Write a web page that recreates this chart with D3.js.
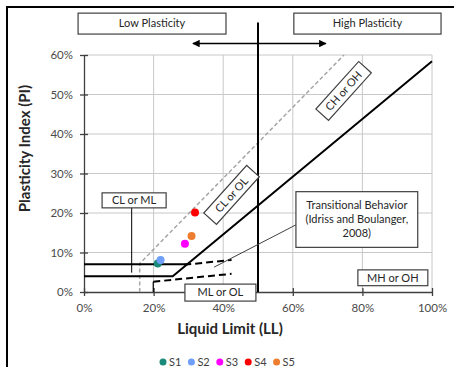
<!DOCTYPE html>
<html>
<head>
<meta charset="utf-8">
<script src="https://cdn.jsdelivr.net/npm/d3@7"></script>
<style>
  html, body { margin: 0; padding: 0; background: #fff; }
  svg { display: block; font-family: Lato, "Liberation Sans", sans-serif; }
</style>
</head>
<body>
<div id="chart"></div>
<script>
// samples: liquid limit (%) and plasticity index (%)
const sampleNames = ['S1', 'S2', 'S3', 'S4', 'S5'];
const sampleLL = [21.2, 22.0, 29.0, 31.9, 30.9];
const samplePI = [7.2, 8.1, 12.2, 20.1, 14.2];
const sampleColors = ['#1a8a7a', '#6f9ffa', '#ff00ff', '#ff0000', '#ed7d31'];

const xTicks = [0, 20, 40, 60, 80, 100];
const yTicks = [0, 10, 20, 30, 40, 50, 60];

// chart lines, in [LL, PI]
const aLine = [[0, 4], [25.5, 4], [100, 58.4]];
const clMlLine = [[0, 7], [29.6, 7]];
const uLine = [[16, 0], [16, 7.2], [74.7, 60]];
const transUpper = [[28.8, 6.9], [42.4, 8.1]];
const transLower = [[19.9, 2.6], [42.4, 4.6]];
const transStem = [[19.9, 0], [19.9, 2.6]];
const llDivide = [[50, 0], [50, 68.2]];
const arrowLine = [[31.3, 62.9], [69.5, 62.9]];

const width = 454, height = 367;
const margin = { top: 55, right: 22, bottom: 75, left: 84 };

const x = d3.scaleLinear().domain([0, 100]).range([margin.left, width - margin.right]);
const y = d3.scaleLinear().domain([0, 60]).range([height - margin.bottom, margin.top]);

const svg = d3.select('#chart').append('svg')
    .attr('width', width)
    .attr('height', height);

svg.append('rect').attr('width', width).attr('height', height).attr('fill', '#fff');

// outer frame (only top/left visible)
svg.append('rect')
    .attr('x', 7).attr('y', 7)
    .attr('width', width + 20).attr('height', height + 20)
    .attr('fill', 'none').attr('stroke', '#000').attr('stroke-width', 2);

// gridlines
svg.append('g').selectAll('line.vg')
    .data(xTicks.slice(1))
    .join('line')
    .attr('x1', d => x(d)).attr('x2', d => x(d))
    .attr('y1', y(0)).attr('y2', y(60))
    .attr('stroke', '#c8c8c8').attr('stroke-width', 1);

svg.append('g').selectAll('line.hg')
    .data(yTicks.slice(1))
    .join('line')
    .attr('x1', x(0)).attr('x2', x(100))
    .attr('y1', d => y(d)).attr('y2', d => y(d))
    .attr('stroke', '#c8c8c8').attr('stroke-width', 1);

// axes
const yAxis = svg.append('g')
    .attr('transform', `translate(${x(0)},0)`)
    .call(d3.axisLeft(y).tickValues(yTicks).tickFormat(d => d + '%').tickSizeInner(4).tickSizeOuter(0).tickPadding(7));
yAxis.selectAll('.tick line').attr('x1', 4);

const xAxis = svg.append('g')
    .attr('transform', `translate(0,${y(0)})`)
    .call(d3.axisBottom(x).tickValues(xTicks).tickFormat(d => d + '%').tickSizeInner(4).tickSizeOuter(0).tickPadding(8));
xAxis.selectAll('.tick line').attr('y1', -4);

svg.selectAll('.domain, .tick line').attr('stroke', '#404040').attr('stroke-width', 1.3);
svg.selectAll('.tick text')
    .attr('font-family', 'Lato, "Liberation Sans", sans-serif')
    .attr('font-size', 11.5)
    .attr('fill', '#4a4a4a');

// axis titles
svg.append('text')
    .attr('x', (x(0) + x(100)) / 2 - 28)
    .attr('y', 334)
    .attr('text-anchor', 'middle')
    .attr('font-weight', 'bold')
    .attr('font-size', 15)
    .attr('fill', '#262626')
    .text('Liquid Limit (LL)');

svg.append('text')
    .attr('transform', `translate(30,${(y(0) + y(60)) / 2 - 25}) rotate(-90)`)
    .attr('text-anchor', 'middle')
    .attr('font-weight', 'bold')
    .attr('font-size', 15)
    .attr('fill', '#262626')
    .text('Plasticity Index (PI)');

const line = d3.line().x(d => x(d[0])).y(d => y(d[1]));

// U-line
svg.append('path').attr('d', line(uLine))
    .attr('fill', 'none').attr('stroke', '#a6a6a6').attr('stroke-width', 1.5)
    .attr('stroke-dasharray', '4,2.5');

// transitional behavior
[transUpper, transLower].forEach(seg => {
    svg.append('path').attr('d', line(seg))
        .attr('fill', 'none').attr('stroke', '#000').attr('stroke-width', 2)
        .attr('stroke-dasharray', '7,4');
});
svg.append('path').attr('d', line(transStem))
    .attr('fill', 'none').attr('stroke', '#000').attr('stroke-width', 1.2);

// A-line and CL-ML limit
svg.append('path').attr('d', line(aLine))
    .attr('fill', 'none').attr('stroke', '#000').attr('stroke-width', 2);
svg.append('path').attr('d', line(clMlLine))
    .attr('fill', 'none').attr('stroke', '#000').attr('stroke-width', 2);

// LL = 50 divide
svg.append('path').attr('d', line(llDivide))
    .attr('fill', 'none').attr('stroke', '#000').attr('stroke-width', 2);

// arrow
const defs = svg.append('defs');
defs.append('marker')
    .attr('id', 'arr')
    .attr('viewBox', '0 0 10 10')
    .attr('refX', 9).attr('refY', 5)
    .attr('markerWidth', 5).attr('markerHeight', 5)
    .attr('orient', 'auto-start-reverse')
    .append('path').attr('d', 'M0,0L10,5L0,10z').attr('fill', '#000');
svg.append('path').attr('d', line(arrowLine))
    .attr('fill', 'none').attr('stroke', '#000').attr('stroke-width', 1.5)
    .attr('marker-start', 'url(#arr)').attr('marker-end', 'url(#arr)');

// leader lines
svg.append('path').attr('d', line([[13.7, 21.3], [13.7, 4.9]]))
    .attr('fill', 'none').attr('stroke', '#000').attr('stroke-width', 1);
svg.append('path').attr('d', line([[37.4, 6.3], [60.9, 17]]))
    .attr('fill', 'none').attr('stroke', '#404040').attr('stroke-width', 1);

// label boxes: [text lines, LL left, LL right, PI top, PI bottom]
const boxLabels = [
    [['Low Plasticity'], -1.7, 40.8, 70.6, 65.3],
    [['High Plasticity'], 60.3, 102.6, 70.6, 65.3],
    [['CL or ML'], 5.2, 23.6, 25.1, 21.3],
    [['ML or OL'], 29.0, 49.4, 2.0, -2.3],
    [['MH or OH'], 78.7, 98.8, 5.6, 1.6],
    [['Transitional Behavior', '(Idriss and Boulanger,', '2008)'], 60.9, 95.9, 25.4, 11.3]
];
boxLabels.forEach(([lines, l, r, t, b]) => {
    const y0 = y(t), y1 = y(b);
    const g = svg.append('g');
    g.append('rect')
        .attr('x', x(l)).attr('y', y0)
        .attr('width', x(r) - x(l)).attr('height', y1 - y0)
        .attr('fill', '#fff').attr('stroke', '#404040').attr('stroke-width', 1.2);
    const cy = (y0 + y1) / 2;
    lines.forEach((s, i) => {
        g.append('text')
            .attr('x', (x(l) + x(r)) / 2)
            .attr('y', cy + (i - (lines.length - 1) / 2) * 14)
            .attr('dy', '0.35em')
            .attr('text-anchor', 'middle')
            .attr('font-size', 11)
            .attr('fill', '#262626')
            .text(s);
    });
});

// rotated labels: [text, LL, PI]
const rotLabels = [['CL or OL', 42.4, 24.6], ['CH or OH', 74.6, 50.9]];
rotLabels.forEach(([s, ll, pi]) => {
    const g = svg.append('g')
        .attr('transform', `translate(${x(ll)},${y(pi)}) rotate(-48)`);
    g.append('rect')
        .attr('x', -32).attr('y', -8.5).attr('width', 64).attr('height', 17)
        .attr('fill', '#fff').attr('stroke', '#404040').attr('stroke-width', 1.2);
    g.append('text')
        .attr('text-anchor', 'middle').attr('dy', '0.35em')
        .attr('font-size', 11).attr('fill', '#262626')
        .text(s);
});

// samples
svg.append('g').selectAll('circle')
    .data(sampleNames)
    .join('circle')
    .attr('cx', (d, i) => x(sampleLL[i]))
    .attr('cy', (d, i) => y(samplePI[i]))
    .attr('r', 4)
    .attr('fill', (d, i) => sampleColors[i]);

// legend
const legend = svg.append('g').attr('transform', 'translate(163,362)');
const item = legend.selectAll('g')
    .data(sampleNames)
    .join('g')
    .attr('transform', (d, i) => `translate(${i * 28.4},0)`);
item.append('circle').attr('r', 3.5).attr('fill', (d, i) => sampleColors[i]);
item.append('text')
    .attr('x', 6).attr('dy', '0.35em')
    .attr('font-size', 11).attr('fill', '#404040')
    .text(d => d);
</script>
</body>
</html>
